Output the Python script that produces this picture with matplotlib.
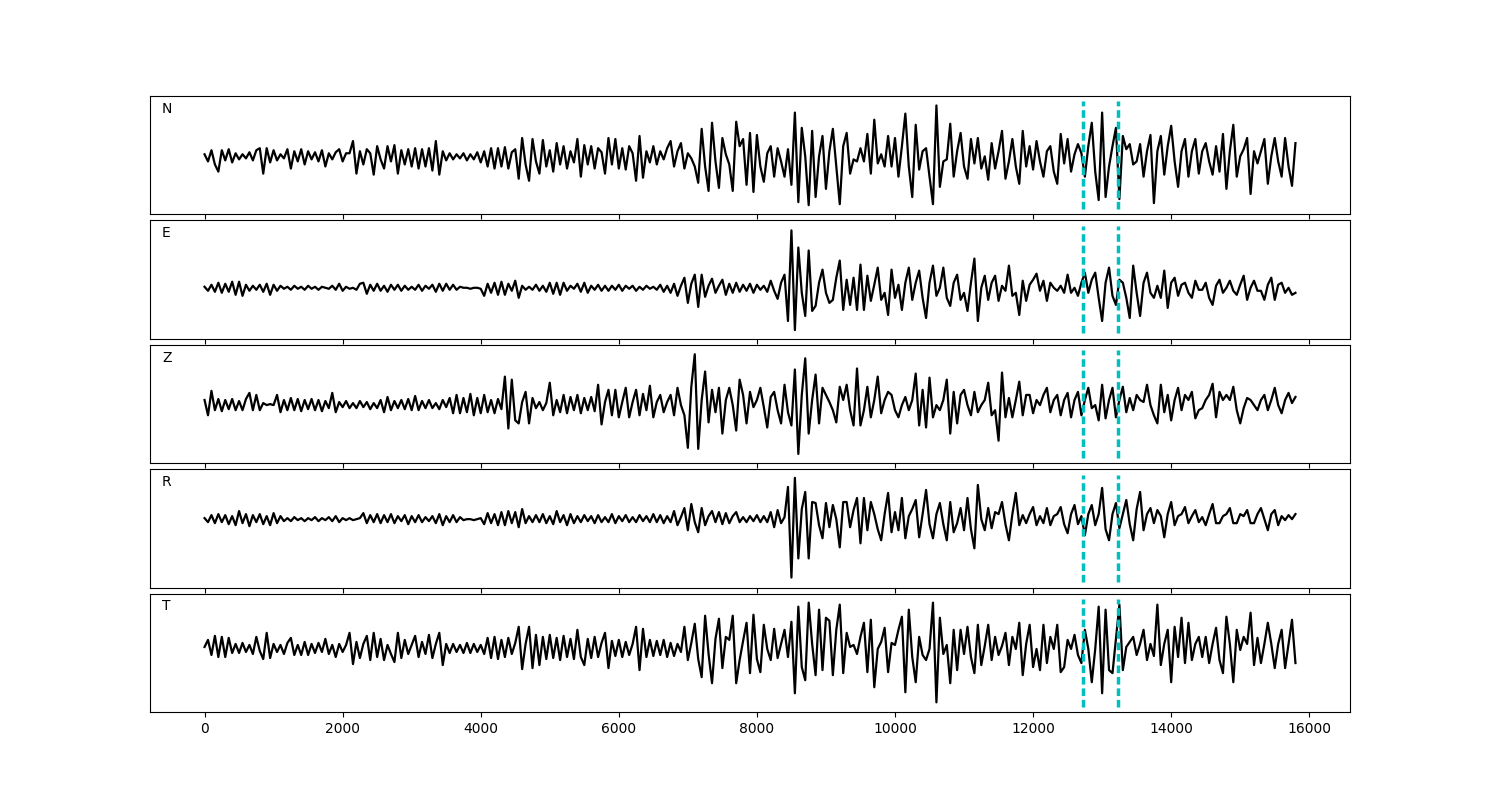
import numpy as np
import matplotlib
matplotlib.use("Agg")
import matplotlib.pyplot as plt

# sample spacing of the traces (one value every 50 samples, 0..15800)
step = 50
# picks marked on every component
picks = [12720, 13230]
components = ["N", "E", "Z", "R", "T"]

# amplitudes (arbitrary units, positive up)
n_trace = [
    2, -5, 6, -8, -15, 6, -4, 7, -6, 3, -3, 2, -2, 4, -4, 6, 8, -17, 8, -6,
    6, -4, 2, -2, 7, -12, 5, -5, 7, -8, 5, -3, 4, -5, 6, -10, 3, -3, 4, 7,
    -5, 3, 3, 15, -17, 5, -8, 7, 3, -18, 10, -3, -12, 10, -5, 11, -17, 6, -8, 7,
    -10, 8, -12, 7, -10, 8, -14, 15, -18, 5, -4, 3, -3, 2, -2, 3, -4, 2, -3, 4,
    -6, 5, -10, 8, -12, 8, -10, 9, -12, 4, 7, -22, 18, -8, -24, 17, -5, -17, 16, -10,
    6, -15, 13, -8, 10, -12, 5, -6, 17, -20, 11, -8, 10, -12, 8, 4, -17, 18, -8, 17,
    -12, 8, -13, 10, 3, -24, 20, -21, 5, -6, 10, -8, 5, -3, 8, 15, -10, 5, 13, -12,
    3, -2, -10, -26, 27, -10, -34, 33, -5, -31, 18, 2, -8, -34, 34, 10, 17, -28, 23, -35,
    21, -10, -25, 3, 10, -20, 8, -5, -20, 7, -28, 43, -45, 28, 0, -48, 25, -40, 0, 20,
    -32, 5, 27, -10, -47, 10, 23, -17, -3, -5, 8, -5, 22, -17, 36, -7, 2, -10, 20, -10,
    18, -20, 10, 42, -10, -40, 31, -13, 5, 8, -20, -47, 50, -30, -5, -3, 32, -20, 5, 23,
    -10, -22, 17, -7, 18, -12, 0, -23, 13, -12, 5, 25, -22, -5, 17, -10, -27, 25, -10, 10,
    -13, 15, -5, -20, 5, 10, -15, -27, 22, -7, 17, -15, 2, 12, 3, -20, 10, 33, -15, -43,
    43, -40, -10, 10, 28, -42, 20, 7, 12, -8, -5, 12, -20, 5, 21, -46, 5, 20, -18, 10,
    30, -5, -30, 5, 17, -20, 5, 17, -17, 5, 13, -5, -18, 10, -15, 22, -32, 5, 31, -20,
    0, 7, 18, -37, 5, -7, 5, 17, -27, 0, 18, -5, -20, 18, -10, -29, 13,
]

e_trace = [
    1, -3, 3, -4, 5, -5, 4, -4, 6, -7, 6, -8, 3, -3, 2, -2, 3, -4, 4, -7,
    3, -3, 2, -1, 1, -2, 2, -1, 1, -2, 2, -1, 1, -2, 1, 0, -1, 2, -2, 4,
    -3, 1, -1, 0, -2, 4, 5, -6, 3, -3, 4, -3, 2, -4, 3, -2, 3, -3, 2, -2,
    1, -2, 3, -3, 2, -1, 3, -4, 4, -3, 4, -2, 3, -2, 1, 0, 0, -1, 0, 0,
    -1, -8, 4, -5, 5, -7, 6, -7, 4, -3, 7, -10, 2, -2, 1, -2, 3, -3, 2, -4,
    5, -6, 5, -7, 5, -3, 2, -1, 4, -4, 5, -5, 2, -2, 3, -3, 2, -3, 2, -2,
    3, -3, 2, -1, 2, -3, 1, -2, 2, -1, 1, -2, 3, -4, 2, -5, 4, -8, 2, 10,
    -15, 4, 13, -19, 13, -9, 2, 9, -5, 2, 8, -7, 4, -5, 5, -4, 3, -3, 4, -5,
    3, -2, 2, -4, 7, -3, -11, 5, 13, -33, 57, -42, 40, -5, -28, 37, -23, -18, 5, 18,
    -5, -15, -12, 10, 27, -22, 8, -17, 10, -22, 23, -22, 12, -13, 3, 20, -12, -5, -27, 18,
    -10, 3, -22, 5, 20, -12, 5, 17, -10, -30, 5, 22, -8, 0, 20, -10, -18, 5, 13, -12,
    -5, -23, 5, 29, -33, 0, 12, -12, 5, 12, -13, 2, -3, 22, -8, -5, -27, 7, -13, 3,
    8, 14, -3, 7, -13, 5, 0, -3, 2, -5, 13, -5, 0, -8, 5, 15, -5, 8, 15, -10,
    -33, 5, 20, -8, -17, 8, 5, -10, -30, 22, -5, -28, 5, 15, -5, -10, 2, -10, 17, -20,
    5, 10, -8, 3, 5, -5, -10, 7, -2, -2, 5, -10, -17, 2, 8, -5, 0, 7, -3, -7,
    3, 12, -12, 0, 7, -3, -3, -12, 3, 10, -12, 3, 5, -5, 0, -7, -5,
]

z_trace = [
    5, -10, 14, -5, 6, -6, 5, -4, 6, -5, 4, -5, 6, 12, -5, 10, -5, 2, 0, 1,
    0, 10, -7, 5, -5, 7, -5, 6, -6, 5, -4, 6, -5, 5, -6, 4, -3, 12, -7, 3,
    -2, 4, -3, 2, -3, 4, -2, 3, -4, 2, -3, 5, -7, 8, -5, 4, -3, 5, -4, 6,
    -5, 9, -5, 4, -3, 5, -3, 2, -4, 5, -2, 7, -8, 10, -8, 7, -7, 11, -10, 7,
    -8, 10, -7, 5, -8, 6, -4, 28, -23, 25, -15, -18, 3, 13, -18, 7, -3, 3, -5, 2,
    22, -10, 5, -7, 10, -8, 8, -5, 10, -8, 7, -5, 8, -6, 20, -19, 3, 15, -10, 15,
    -12, 3, 17, -12, 3, 15, -10, 11, -5, 19, -12, 3, 10, -7, 3, 10, -10, 17, 0, -10,
    -42, 18, 50, -43, 5, 33, -17, 15, -7, 17, -28, 5, 17, 0, -25, 25, 10, -18, 13, -2,
    5, 17, -2, -22, 8, 13, -5, -18, 20, -7, -20, 35, -48, 10, 46, -28, 5, 30, -18, 17,
    10, 3, -5, -17, 18, 5, 20, -5, -20, 36, -20, -5, 18, -12, 5, 28, -8, 5, 13, 10,
    -5, -12, 0, 8, -5, 5, 31, -20, 15, -22, 27, -12, 0, -5, 5, 25, -28, 13, -18, 10,
    15, 0, -10, 13, -7, 0, 5, 22, -10, -5, -35, 32, -12, 7, -12, 5, 23, -10, 10, 10,
    -8, 5, 0, 10, 17, -7, 5, 10, -10, 5, 12, -12, 5, 13, -10, 5, 17, -3, 0, -15,
    20, -13, 5, 17, -12, 5, 18, -7, 7, -5, 10, 5, 3, 20, 0, -10, -18, 20, -7, 10,
    -15, 5, 17, -5, 10, 5, 13, -13, -5, -3, 5, 10, 21, -12, 13, 5, 10, 5, 18, -5,
    -18, -3, 7, 5, 0, -5, 5, 10, -5, 5, 17, 0, -8, 5, 12, 2, 8,
]

r_trace = [
    1, -3, 4, -4, 5, -3, 4, -5, 3, -6, 8, -4, 5, -7, 4, -3, 5, -5, 3, -6,
    6, -4, 3, -2, 1, -2, 2, -1, 1, -2, 1, -1, 2, -2, 1, -1, 2, -2, 3, -3,
    1, -1, 1, -1, 0, 1, 6, -4, 4, -3, 5, -4, 4, -3, 5, -4, 3, -2, 4, -5,
    3, -3, 4, -3, 2, -2, 3, -4, 5, -6, 3, -3, 4, -3, 2, -1, 0, 0, -1, 0,
    1, -5, 6, -4, 5, -6, 7, -6, 8, -4, 7, -8, 10, -4, 3, -3, 4, -3, 5, -4,
    3, -5, 8, -3, 4, -6, 5, -4, 3, -3, 4, -2, 3, -4, 4, -3, 2, -3, 5, -4,
    3, -2, 4, -3, 2, -3, 4, -2, 3, -3, 5, -3, 4, -4, 3, -3, 8, -6, 2, 11,
    -11, 15, -3, -13, 11, -6, 3, 8, -3, 7, -5, 6, -4, 3, 7, -3, 2, -3, 3, -2,
    4, -3, 3, -3, 7, -8, 9, -4, 2, 32, -58, 41, -39, 10, 27, -39, 17, 16, -6, -19,
    16, -8, 14, 0, -28, 17, 17, -8, 9, 21, -24, 21, -11, 17, 5, -10, -21, 5, 26, -13,
    7, -11, 21, -19, 3, 10, 19, -18, 5, 29, -5, -19, 5, 16, -5, -21, 17, -13, -4, 11,
    -11, 21, -10, -29, 34, 0, -11, 11, -9, 7, 5, 17, -5, -21, 5, 26, -6, 4, -4, 5,
    12, -6, 3, -4, 11, -6, 3, 5, 12, -5, -14, 5, 14, -5, 3, -16, 5, 14, -6, 5,
    31, -10, -21, 5, 16, -9, 5, 19, -5, -21, 10, 27, -11, 5, 11, -4, 9, 3, -18, 5,
    17, -6, 3, 5, 12, -4, 3, 9, -3, 2, -6, 5, 15, -4, -4, 3, 5, 11, -4, -4,
    5, 3, 9, -4, -4, 5, 11, 0, -11, 5, 9, -6, 3, -1, 4, 0, 5,
]

t_trace = [
    2, 9, -6, 13, -8, 12, -8, 11, -4, 5, -4, 6, -3, 4, -5, 12, -2, -10, 16, -9,
    5, -3, 4, -5, 6, 11, -6, 4, -6, 7, -6, 5, -4, 6, -3, 10, -5, 4, -8, 5,
    -3, 4, 16, -15, 7, -9, 5, 13, -11, 16, -8, 10, -11, 4, -5, -13, 16, -9, 9, -5,
    4, 13, -8, 7, -5, 14, -9, 5, 16, -16, 5, -4, 5, -3, 4, -4, 6, -4, 5, -3,
    4, -5, 11, -9, 12, -10, 9, -8, 11, -5, 6, 22, -20, 5, 22, -19, 14, -16, 12, -10,
    14, -9, 11, -11, 13, -8, 10, -10, 19, -8, -16, 10, -9, 12, -8, 6, 16, -19, 8, -7,
    9, -8, 7, -6, 5, 22, -21, 20, -8, 9, -7, 8, -6, 9, -8, 6, -7, 5, -3, 22,
    -11, 6, 25, -10, -28, 33, -5, -34, 10, 30, -19, 12, 9, 33, -34, -11, 8, 26, -24, 34,
    -10, -23, 24, 0, -11, 20, -9, 5, 19, -8, 27, -44, 42, -18, -31, 46, 5, -26, 39, -21,
    31, 28, -26, 19, 44, -24, 16, 2, 4, -5, 12, 26, -23, 29, -38, 0, 7, 21, -23, 6,
    4, 19, 32, -43, 39, -8, -33, 12, -6, -11, 0, 46, -53, 31, -5, 4, -34, 19, -21, 19,
    -5, 22, -8, -24, 24, -16, 3, 24, -11, 12, -6, 3, 16, -16, 12, 0, 26, -26, 5, 24,
    -18, 0, -21, 24, -14, 12, 0, 24, -23, -18, 9, 0, 14, -6, -14, 19, 0, -33, 0, 42,
    -44, 39, -21, -24, 10, 44, -21, 2, 7, 12, -6, 5, 19, -11, 5, -7, 44, -16, 5, 19,
    -33, 22, -8, 31, -14, 26, -11, 5, 12, -8, 12, -14, 5, 21, -11, -24, 32, 5, -33, 19,
    -1, 12, 5, 36, -16, 11, -14, 5, 26, 5, -19, 5, 19, -19, 5, 29, -14,
]

traces = [n_trace, e_trace, z_trace, r_trace, t_trace]

fig, axes = plt.subplots(5, 1, sharex=True, figsize=(15, 8))
plt.subplots_adjust(left=0.1, right=0.9, hspace=0.05)

for ax, name, tr in zip(axes, components, traces):
    tr = np.array(tr, dtype=float)
    x = np.arange(len(tr)) * step
    ax.plot(x, tr, color="k", lw=1.6, solid_joinstyle="round")
    lo, hi = tr.min() * 1.08, tr.max() * 1.08
    ax.vlines(picks, lo, hi, colors="c", linestyles=(0, (2.2, 1.1)), lw=2.5)
    ax.set_yticks([])
    ax.text(0.01, 0.95, name, transform=ax.transAxes, va="top", ha="left")

plt.savefig("out.png")
